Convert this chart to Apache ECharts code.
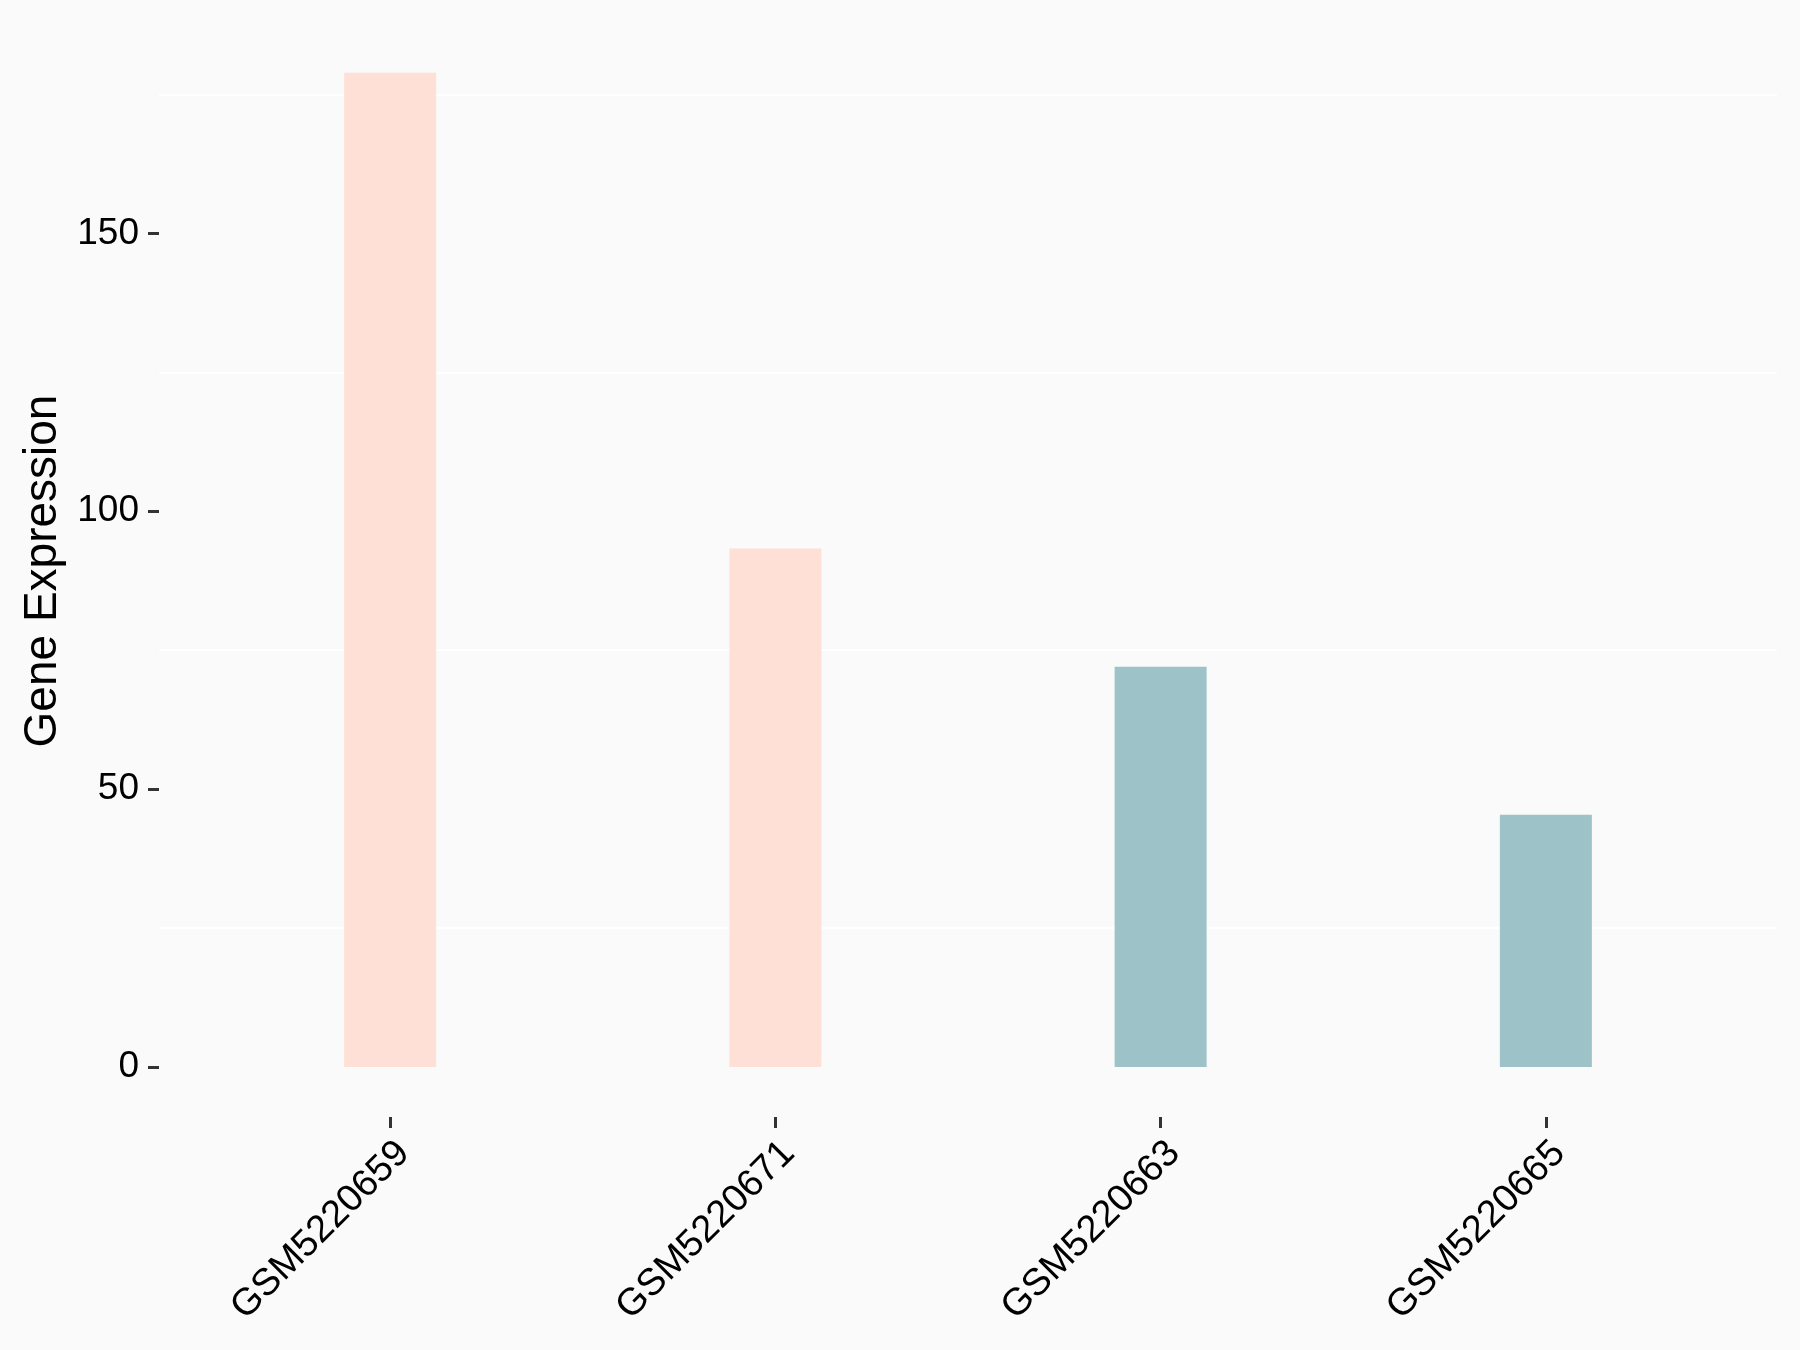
<!DOCTYPE html>
<html>
<head>
<meta charset="utf-8">
<script src="https://cdn.jsdelivr.net/npm/echarts@6/dist/echarts.min.js"></script>
<style>
  html, body { margin: 0; padding: 0; background: #FAFAFA; }
  #chart { width: 1800px; height: 1350px; }
</style>
</head>
<body>
<div id="chart"></div>
<script>
// ---- data ----
var categories = ['GSM5220659', 'GSM5220671', 'GSM5220663', 'GSM5220665'];
var values = [178.9, 93.3, 72.0, 45.4];
var groups = ['A', 'A', 'B', 'B'];
var yTickValues = [0, 50, 100, 150];
var minorGridValues = [25, 75, 125, 175];
var groupColors = { A: '#FEE0D6', B: '#9DC3C8' };

var font = '"Liberation Sans", Arial, Helvetica, sans-serif';
var positions = categories.map(function (c, i) { return i + 1; });

var chart = echarts.init(document.getElementById('chart'), null, { renderer: 'canvas' });
chart.setOption({
  backgroundColor: '#FAFAFA',
  animation: false,
  grid: { left: 159, right: 23, top: 23, bottom: 283, containLabel: false },
  xAxis: {
    type: 'value',
    min: 0.4,
    max: 4.6,
    offset: 50,
    axisLine: { show: false, onZero: false },
    splitLine: { show: false },
    axisTick: {
      show: true,
      customValues: positions,
      length: 11,
      lineStyle: { color: '#333333', width: 3 }
    },
    axisLabel: {
      customValues: positions,
      rotate: 45,
      margin: 17,
      verticalAlign: 'top',
      fontFamily: font,
      fontSize: 38,
      color: '#000000',
      formatter: function (v) { return categories[Math.round(v) - 1] || ''; }
    }
  },
  yAxis: {
    type: 'value',
    min: 0,
    max: 187.85,
    interval: 25,
    name: 'Gene Expression',
    nameLocation: 'middle',
    nameGap: 92,
    nameTextStyle: { fontFamily: font, fontSize: 46, color: '#000000', padding: [0, 52, 0, 0] },
    axisLine: { show: false },
    axisTick: {
      show: true,
      customValues: yTickValues,
      length: 11,
      lineStyle: { color: '#333333', width: 3 }
    },
    axisLabel: {
      customValues: yTickValues,
      margin: 20,
      fontFamily: font,
      fontSize: 37,
      color: '#000000'
    },
    splitLine: { show: false }
  },
  series: [{
    type: 'bar',
    barWidth: 92,
    z: 2,
    data: categories.map(function (c, i) {
      return {
        value: [positions[i], values[i]],
        itemStyle: { color: groupColors[groups[i]] }
      };
    }),
    markLine: {
      z: 1,
      silent: true,
      symbol: ['none', 'none'],
      label: { show: false },
      lineStyle: { color: '#FFFFFF', width: 2, type: 'solid' },
      emphasis: { disabled: true },
      data: minorGridValues.map(function (v) { return { yAxis: v }; })
    }
  }]
});
</script>
</body>
</html>
